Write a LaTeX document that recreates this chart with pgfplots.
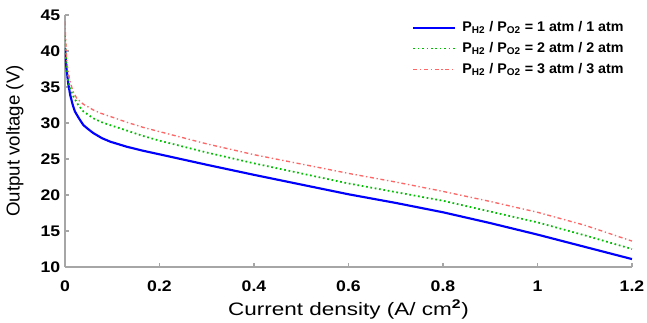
\documentclass[border=0pt]{standalone}
\usepackage{pgfplots}
\pgfplotsset{compat=1.18}
\usepackage{fontspec}
\setmainfont{Liberation Sans}
\newcommand\tkl[1]{\scalebox{1.15}[1]{\textbf{#1}}}
\newcommand\lgd[1]{\scalebox{1.02}[1]{#1}}
\begin{document}
\begin{tikzpicture}
\begin{axis}[
  at={(0,0)}, anchor=south west,
  scale only axis,
  width=425.25pt, height=189pt,
  xmin=0, xmax=1.2, ymin=10, ymax=45,
  axis lines*=left,
  axis line style={gray!70, line width=0.8pt},
  tick style={gray!70, line width=0.8pt},
  tick align=inside,
  major tick length=3pt,
  xtick={0,0.2,0.4,0.6,0.8,1,1.2},
  xticklabels={\tkl{0},\tkl{0.2},\tkl{0.4},\tkl{0.6},\tkl{0.8},\tkl{1},\tkl{1.2}},
  ytick={10,15,20,25,30,35,40,45},
  yticklabels={\tkl{10},\tkl{15},\tkl{20},\tkl{25},\tkl{30},\tkl{35},\tkl{40},\tkl{45}},
  tick label style={font=\fontsize{11.5}{13}\selectfont},
  xticklabel style={yshift=-7pt},
  xlabel={\scalebox{1.25}[1]{Current density (A/ cm$^{\mathbf{2}}$)}},
  ylabel={Output voltage (V)},
  xlabel style={font=\fontsize{13.5}{15}\selectfont, yshift=1pt},
  ylabel style={font=\fontsize{14}{16}\selectfont, yshift=6pt},
  legend cell align=left,
  legend style={draw=none, fill=none, at={(0.605,0.996)}, anchor=north west,
    font=\fontsize{10.5}{12}\selectfont\bfseries, row sep=2.5pt,
    /tikz/every even column/.append style={column sep=2pt}},
  legend image code/.code={\draw[#1] (0pt,0pt) -- (31pt,0pt);},
  /tikz/every odd column/.append style={column sep=3pt},
]
\addplot[blue, line width=1.6pt] coordinates {
(0,40.4) (0.002,38.3) (0.004,37.1) (0.007,35.4) (0.011,33.9) (0.016,32.6) (0.021,31.6) (0.03,30.6) (0.039,29.7) (0.05,29.1) (0.06,28.6) (0.078,27.9) (0.096,27.4) (0.131,26.7) (0.165,26.15) (0.2,25.65) (0.3,24.2) (0.4,22.8) (0.5,21.45) (0.6,20.1) (0.7,18.9) (0.8,17.6) (0.9,16.1) (1.0,14.5) (1.1,12.8) (1.2,11.1)
};
\addlegendentry{\lgd{P$_{\mathbf{H2}}$ / P$_{\mathbf{O2}}$ = 1 atm / 1 atm}}
\addplot[green!75!black, line width=1.3pt, dotted] coordinates {
(0,42.2) (0.002,39.2) (0.004,37.4) (0.007,35.8) (0.012,34.6) (0.018,33.65) (0.028,32.5) (0.039,31.6) (0.05,31.1) (0.06,30.65) (0.078,30.1) (0.096,29.7) (0.131,28.95) (0.165,28.2) (0.2,27.55) (0.3,25.9) (0.4,24.4) (0.5,23.0) (0.6,21.6) (0.7,20.4) (0.8,19.2) (0.9,17.7) (1.0,16.2) (1.1,14.4) (1.2,12.5)
};
\addlegendentry{\lgd{P$_{\mathbf{H2}}$ / P$_{\mathbf{O2}}$ = 2 atm / 2 atm}}
\addplot[red!60, line width=1.0pt, dash dot] coordinates {
(0,44.1) (0.002,40.5) (0.004,38.5) (0.007,37.0) (0.011,35.7) (0.017,34.4) (0.025,33.4) (0.039,32.6) (0.05,32.2) (0.06,31.8) (0.078,31.3) (0.096,30.9) (0.131,30.1) (0.165,29.4) (0.2,28.8) (0.3,27.1) (0.4,25.6) (0.5,24.3) (0.6,23.0) (0.7,21.8) (0.8,20.5) (0.9,19.1) (1.0,17.6) (1.1,15.8) (1.2,13.6)
};
\addlegendentry{\lgd{P$_{\mathbf{H2}}$ / P$_{\mathbf{O2}}$ = 3 atm / 3 atm}}
\end{axis}
\pgfresetboundingbox
\useasboundingbox (-48.75pt,-41.25pt) rectangle (436.5pt,200.25pt);
\end{tikzpicture}
\end{document}
